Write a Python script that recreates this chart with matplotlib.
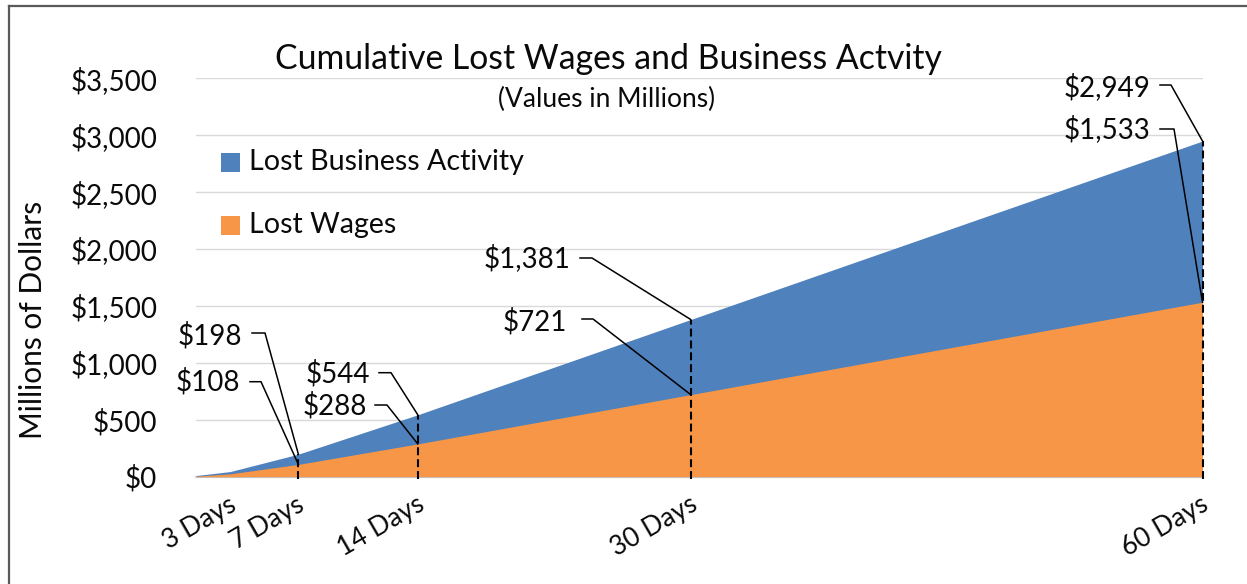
import matplotlib
matplotlib.use("Agg")
import matplotlib.pyplot as plt
from matplotlib.lines import Line2D
from matplotlib.patches import Rectangle
import matplotlib.transforms as mtransforms

# ---------------- data ----------------
days = [1, 3, 7, 14, 30, 60]
lost_wages = [5, 25, 108, 288, 721, 1533]
lost_business = [10, 45, 198, 544, 1381, 2949]

tick_days = [3, 7, 14, 30, 60]
tick_labels = ["3 Days", "7 Days", "14 Days", "30 Days", "60 Days"]

marked_days = [7, 14, 30, 60]
marked_wages = [108, 288, 721, 1533]
marked_business = [198, 544, 1381, 2949]

y_ticks = [0, 500, 1000, 1500, 2000, 2500, 3000, 3500]

title = "Cumulative Lost Wages and Business Actvity"
subtitle = "(Values in Millions)"
ylabel = "Millions of Dollars"
series_names = ["Lost Business Activity", "Lost Wages"]

# ---------------- style ----------------
W, H = 1247, 584
BLUE = "#4F81BD"
ORANGE = "#F79646"
GRID = "#D9D9D9"
TXT = "#0A0A0A"
FONT = "Lato"
plt.rcParams["font.family"] = [FONT, "DejaVu Sans"]

fig = plt.figure(figsize=(W / 100, H / 100), dpi=100)


def fx(px):
    return px / W


def fy(py):
    return 1 - py / H


ax_left, ax_right, ax_top, ax_bottom = 196, 1202.5, 78.3, 476.7
ax = fig.add_axes([fx(ax_left), fy(ax_bottom), (ax_right - ax_left) / W,
                   (ax_bottom - ax_top) / H])

ax.fill_between(days, 0, lost_business, color=BLUE, linewidth=0, zorder=2)
ax.fill_between(days, 0, lost_wages, color=ORANGE, linewidth=0, zorder=3)

ax.set_xlim(days[0], days[-1])
ax.set_ylim(0, 3500)
ax.set_yticks(y_ticks)
ax.set_yticklabels([f"${v:,}" for v in y_ticks])
ax.set_xticks(tick_days)
ax.set_xticklabels(tick_labels)

ax.grid(axis="y", color=GRID, linewidth=1.0, zorder=0)
ax.set_axisbelow(True)
for s in ["top", "right", "left"]:
    ax.spines[s].set_visible(False)
ax.spines["bottom"].set_color(GRID)
ax.spines["bottom"].set_linewidth(1.6)
ax.spines["bottom"].set_zorder(1)

ax.tick_params(axis="y", length=0, pad=28, labelsize=20, labelcolor=TXT)
ax.tick_params(axis="x", length=0, pad=11, labelsize=19, labelcolor=TXT)
offset = mtransforms.ScaledTranslation(-2 / 100, 0, fig.dpi_scale_trans)
for lab in ax.get_xticklabels():
    lab.set_rotation(30)
    lab.set_rotation_mode("anchor")
    lab.set_ha("right")
    lab.set_va("top")
    lab.set_transform(lab.get_transform() + offset)

# dashed drop lines
for d, v in zip(marked_days, marked_business):
    ax.plot([d, d], [-18, v], color="black", linewidth=1.5,
            dashes=(3.8, 1.9), zorder=4, clip_on=False)

# annotations: (text right x, baseline y, line start x, elbow x, line y) in px
ann_layout_wages = [
    (240, 390.7, 250, 261, 381.7),
    (367, 415, 375, 387, 405),
    (567, 330, 582, 593, 319),
    (1150, 138.5, 1160, 1174, 129),
]
ann_layout_business = [
    (242, 344.5, 252, 265, 333),
    (370, 382, 379, 391, 372.7),
    (570, 267, 580, 592, 258),
    (1150, 96, 1160, 1171, 85),
]

fig.canvas.draw()
to_fig = fig.transFigure.inverted()


def annotate(day, val, layout):
    tx, ty, lx0, lx1, ly = layout
    fig.text(fx(tx), fy(ty), f"${val:,}", ha="right", va="baseline",
             fontsize=20, color=TXT)
    px_pt = ax.transData.transform((day, val))
    ex, ey = to_fig.transform(px_pt)
    fig.add_artist(Line2D([fx(lx0), fx(lx1), ex], [fy(ly), fy(ly), ey],
                          transform=fig.transFigure, color="black",
                          linewidth=1.1, zorder=5))


for d, v, lay in zip(marked_days, marked_business, ann_layout_business):
    annotate(d, v, lay)
for d, v, lay in zip(marked_days, marked_wages, ann_layout_wages):
    annotate(d, v, lay)

# titles
fig.text(fx(608), fy(69), title, ha="center", va="baseline", fontsize=24.3,
         color=TXT)
fig.text(fx(606.5), fy(107), subtitle, ha="center", va="baseline", fontsize=19,
         color=TXT)

# y label
fig.text(fx(33), fy(320), ylabel, ha="center", va="center", rotation=90,
         fontsize=21.5, color=TXT)

# legend (manual)
leg_items = [(BLUE, 152.7, 170), (ORANGE, 215.5, 233)]
for name, (col, sq_top, base) in zip(series_names, leg_items):
    fig.add_artist(Rectangle((fx(221), fy(sq_top + 19)), 19 / W, 19 / H,
                             transform=fig.transFigure, facecolor=col,
                             edgecolor="none"))
    fig.text(fx(249), fy(base), name, ha="left", va="baseline", fontsize=20.6,
             color=TXT)

# outer chart border (top and left visible)
fig.add_artist(Line2D([fx(8.5), fx(W + 5)], [fy(6), fy(6)],
                      transform=fig.transFigure, color="#5A5A5A", linewidth=1.6))
fig.add_artist(Line2D([fx(8.5), fx(8.5)], [fy(6), fy(H + 5)],
                      transform=fig.transFigure, color="#5A5A5A", linewidth=1.6))

fig.savefig("out.png", dpi=100)
